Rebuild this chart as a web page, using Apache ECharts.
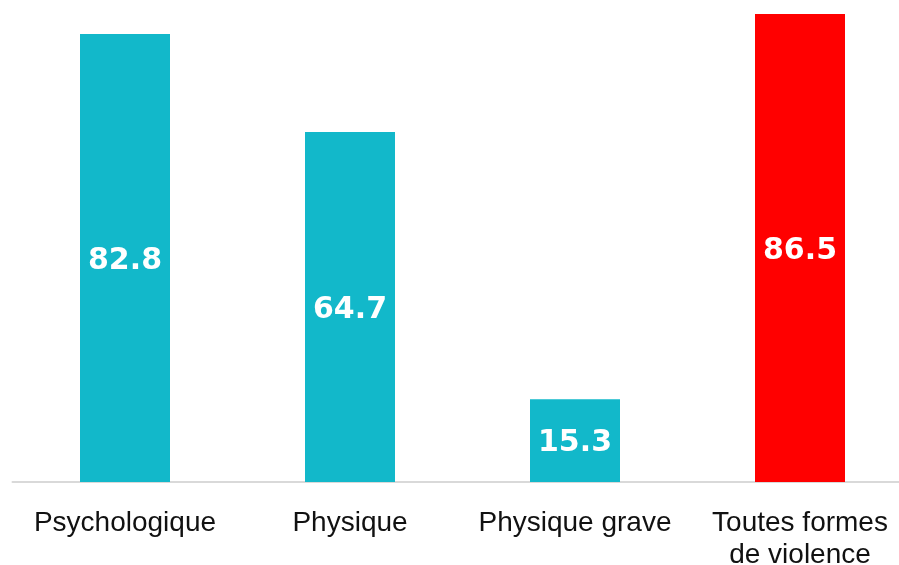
<!DOCTYPE html>
<html lang="fr">
<head>
  <meta charset="UTF-8">
  <title>Violences</title>
  <style>
    html, body{margin: 0; padding: 0; background: #fff}
    #chart{width: 899px; height: 565px}
  </style>
  <script src="https://cdn.jsdelivr.net/npm/echarts@6/dist/echarts.min.js"></script>
</head>
<body>
  <div id="chart"></div>
  <script>
    const categories = ['Psychologique', 'Physique', 'Physique grave', 'Toutes formes\nde violence'];
    const values = [82.8, 64.7, 15.3, 86.5];
    const barColors = ['#12b8ca', '#12b8ca', '#12b8ca', '#ff0000'];

    let chart = echarts.init(document.getElementById('chart'));
    chart.setOption({
      animation: false,
      // plot area runs a little past the right edge, like the original
      grid: {left: 12.5, width: 900, top: 14, bottom: 83, containLabel: false, outerBoundsMode: 'none'},
      xAxis: {
        type: 'category',
        data: categories,
        axisLine: {lineStyle: {color: '#d9d9d9', width: 2}},
        axisTick: {show: false},
        axisLabel: {
          color: '#111',
          fontSize: 28,
          fontFamily: 'Liberation Sans',
          lineHeight: 32,
          margin: 25,
          interval: 0
        }
      },
      yAxis: {
        type: 'value',
        min: 0,
        max: 86.5,
        show: false
      },
      series: [{
        type: 'bar',
        barWidth: '40%',
        data: values.map((v, i) => ({value: v, itemStyle: {color: barColors[i]}})),
        label: {
          show: true,
          position: 'inside',
          offset: [0, 3],
          color: '#fff',
          fontSize: 30,
          fontWeight: 'bold',
          fontFamily: 'DejaVu Sans',
          formatter: p => p.value.toFixed(1)
        }
      }]
    });
  </script>
</body>
</html>
